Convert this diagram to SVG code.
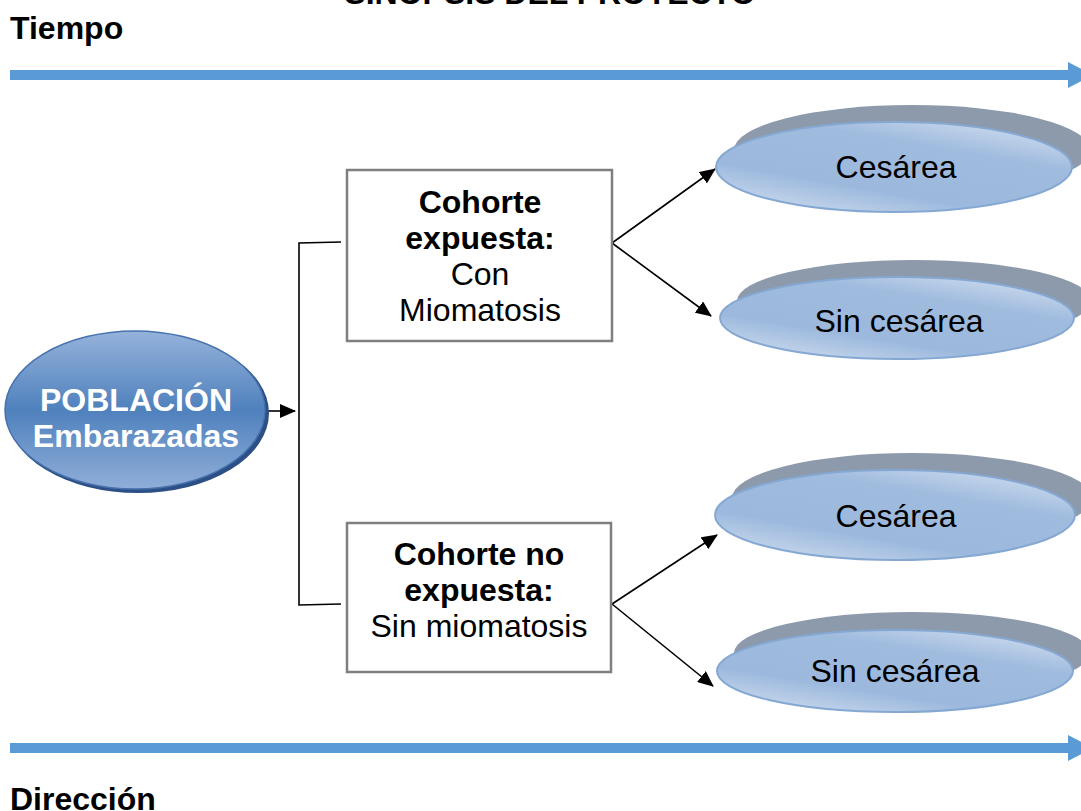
<svg xmlns="http://www.w3.org/2000/svg" width="1081" height="811" viewBox="0 0 1081 811">
<style>
.t{font-family:"Liberation Sans",Arial,sans-serif;font-size:32px;fill:#000}
.b{font-weight:bold}
.c{text-anchor:middle}
.w{fill:#fff}
.box{fill:#fff;stroke:#7f7f7f;stroke-width:2.5}
.con{stroke:#000;stroke-width:1.6;fill:none}
.sh{fill:#8d9aab}
.el{fill:url(#eg);stroke:#85a8d3;stroke-width:2}
.bl{stroke:#5b9bd5;stroke-width:10}
.ah{fill:#5b9bd5}
</style>
<defs>
<linearGradient id="eg" x1="0.15" y1="1" x2="0.85" y2="0">
<stop offset="0" stop-color="#cddbee"/>
<stop offset="0.3" stop-color="#9cb9dd"/>
<stop offset="0.7" stop-color="#9fbbde"/>
<stop offset="1" stop-color="#d0ddef"/>
</linearGradient>
<linearGradient id="pg" x1="0" y1="0" x2="0" y2="1">
<stop offset="0" stop-color="#95b3db"/>
<stop offset="0.5" stop-color="#4f81bd"/>
<stop offset="1" stop-color="#90aed9"/>
</linearGradient>
<marker id="ar" markerWidth="16" markerHeight="14" refX="15" refY="7" orient="auto" markerUnits="userSpaceOnUse">
<path d="M0,0 L16,7 L0,14 Z" fill="#000"/>
</marker>
</defs>

<text class="t b c" x="550" y="4">SINOPSIS DEL PROYECTO</text>
<text class="t b" x="10" y="39">Tiempo</text>
<text class="t b" x="10" y="810">Dirección</text>

<g id="timeline-top">
<line class="bl" x1="10" y1="75" x2="1070" y2="75"/>
<path class="ah" d="M1068,62 L1093,75 L1068,88 Z"/>
</g>
<g id="timeline-bottom">
<line class="bl" x1="10" y1="748" x2="1070" y2="748"/>
<path class="ah" d="M1068,735 L1093,748 L1068,761 Z"/>
</g>

<g id="connectors">
<line class="con" x1="268" y1="411" x2="295" y2="411" marker-end="url(#ar)"/>
<polyline class="con" points="341,242 299,243 299,605 341,604"/>
<line class="con" x1="612" y1="243" x2="715" y2="169" marker-end="url(#ar)"/>
<line class="con" x1="612" y1="243" x2="711" y2="316" marker-end="url(#ar)"/>
<line class="con" x1="612" y1="604" x2="717" y2="535" marker-end="url(#ar)"/>
<line class="con" x1="612" y1="604" x2="713" y2="686" marker-end="url(#ar)"/>
</g>

<g id="poblacion">
<ellipse cx="138" cy="413" rx="131" ry="80" fill="#2c4f86"/>
<ellipse cx="135" cy="410" rx="130" ry="79" fill="url(#pg)" stroke="#4671ad" stroke-width="1.5"/>
<text class="t b c w" x="136" y="411">POBLACIÓN</text>
<text class="t b c w" x="136" y="447">Embarazadas</text>
</g>

<g id="cohorte-expuesta">
<rect class="box" x="347" y="170" width="265" height="171"/>
<text class="t b c" x="480" y="213">Cohorte</text>
<text class="t b c" x="480" y="249">expuesta:</text>
<text class="t c" x="480" y="285">Con</text>
<text class="t c" x="480" y="321">Miomatosis</text>
</g>

<g id="cohorte-no-expuesta">
<rect class="box" x="347" y="523" width="264" height="149"/>
<text class="t b c" x="479" y="565">Cohorte no</text>
<text class="t b c" x="479" y="601">expuesta:</text>
<text class="t c" x="479" y="637">Sin miomatosis</text>
</g>

<g id="cesarea-1">
<ellipse class="sh" cx="912" cy="150" rx="178" ry="45"/>
<ellipse class="el" cx="894" cy="167" rx="178" ry="45"/>
<text class="t c" x="896" y="178">Cesárea</text>
</g>
<g id="sin-cesarea-1">
<ellipse class="sh" cx="914" cy="301" rx="177" ry="41"/>
<ellipse class="el" cx="897" cy="318" rx="177" ry="41"/>
<text class="t c" x="899" y="332">Sin cesárea</text>
</g>
<g id="cesarea-2">
<ellipse class="sh" cx="912" cy="498" rx="180" ry="45"/>
<ellipse class="el" cx="895" cy="515" rx="180" ry="45"/>
<text class="t c" x="896" y="527">Cesárea</text>
</g>
<g id="sin-cesarea-2">
<ellipse class="sh" cx="912" cy="653" rx="178" ry="41"/>
<ellipse class="el" cx="895" cy="671" rx="178" ry="41"/>
<text class="t c" x="895" y="682">Sin cesárea</text>
</g>
</svg>
